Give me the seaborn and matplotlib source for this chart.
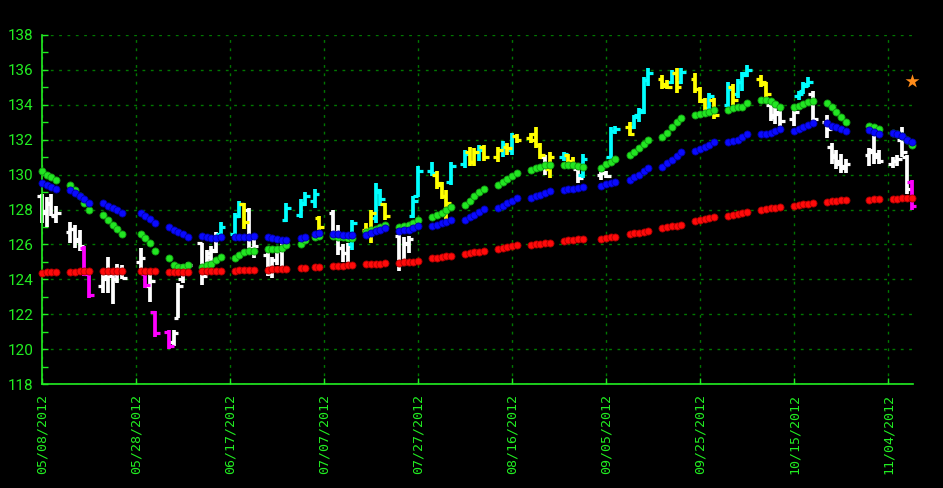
import numpy as np
import pandas as pd
import matplotlib
matplotlib.use("Agg")
import matplotlib.pyplot as plt
import matplotlib.dates as mdates
import seaborn as sns

# trading days (market holidays and the Sandy closure dropped)
holidays = ["2012-05-28", "2012-07-04", "2012-09-03", "2012-10-29", "2012-10-30"]
days = pd.bdate_range("2012-05-08", "2012-11-09")
days = days[~days.isin(pd.to_datetime(holidays))]

# daily bars, one row per week
opens = [128.8, 127.9, 128.4, 127.6,
         126.7, 126.9, 126.3, 125.8, 124.5,
         123.6, 124.2, 124.2, 124.0, 124.6,
         125.0, 124.3, 123.6, 122.1,
         121.0, 120.4, 121.8, 124.0, 124.5,
         126.1, 124.5, 125.3, 125.7, 126.6,
         126.6, 127.6, 128.3, 128.0, 125.6,
         125.4, 124.4, 125.1, 125.6, 127.4,
         127.7, 128.4, 128.5, 127.5,
         127.8, 126.6, 125.8, 125.5, 126.0,
         126.8, 126.9, 127.5, 129.0, 128.3,
         126.5, 125.0, 126.0, 127.6, 128.8,
         130.2, 130.0, 129.4, 128.8, 129.6,
         130.6, 131.3, 130.7, 131.3, 131.6,
         131.0, 131.4, 131.6, 131.4, 132.2,
         132.1, 132.3, 131.7, 131.0, 130.3,
         131.0, 131.1, 130.8, 130.3, 130.0,
         130.0, 130.1, 131.0, 132.5,
         132.7, 132.7, 133.4, 133.7, 135.4,
         135.5, 135.2, 135.3, 135.8, 135.3,
         135.5, 134.9, 134.2, 133.8, 134.3,
         134.0, 135.0, 134.6, 135.3, 135.8,
         135.5, 135.2, 134.0, 133.4, 133.5,
         133.2, 134.5, 134.8, 135.2, 134.6,
         133.0, 131.6, 131.1, 130.8, 130.5,
         131.1, 131.4, 131.0,
         130.6, 130.8, 132.0, 131.0, 129.6]
highs = [128.9, 128.7, 128.9, 128.2,
         127.3, 127.1, 126.8, 125.9, 124.6,
         124.3, 125.3, 124.3, 124.9, 124.8,
         125.8, 124.3, 124.3, 122.2,
         121.1, 121.1, 123.8, 124.9, 125.0,
         126.1, 125.7, 125.9, 126.7, 127.3,
         127.8, 128.5, 128.4, 128.1, 126.3,
         125.6, 125.3, 125.8, 126.1, 128.4,
         128.6, 129.0, 129.2, 127.6,
         128.0, 127.1, 126.0, 126.1, 127.4,
         127.2, 128.0, 129.5, 129.2, 128.4,
         126.6, 126.4, 126.5, 128.8, 130.5,
         130.7, 130.2, 129.6, 129.1, 130.7,
         131.4, 131.6, 131.5, 131.7, 131.7,
         131.6, 131.9, 131.8, 132.4, 132.3,
         132.4, 132.7, 131.8, 131.1, 131.3,
         131.3, 131.2, 131.0, 130.4, 131.2,
         130.3, 130.2, 132.7, 132.8,
         133.0, 133.4, 133.8, 135.6, 136.1,
         135.7, 135.4, 136.0, 136.1, 136.1,
         135.8, 135.0, 134.4, 134.7, 134.4,
         135.3, 135.2, 135.5, 135.9, 136.3,
         135.7, 135.3, 134.0, 133.9, 133.7,
         133.8, 134.8, 135.3, 135.6, 134.8,
         133.4, 131.8, 131.4, 131.2, 130.9,
         131.5, 132.2, 131.4,
         131.0, 131.1, 132.7, 131.1, 129.7]
lows = [127.2, 127.0, 127.6, 127.2,
        126.1, 125.8, 125.6, 124.2, 122.9,
        123.2, 123.2, 122.6, 123.8, 124.0,
        124.3, 123.5, 122.7, 120.7,
        120.0, 120.2, 121.8, 123.8, 124.2,
        123.7, 124.3, 125.0, 125.5, 126.5,
        126.5, 127.5, 126.9, 125.5, 125.2,
        124.2, 124.1, 124.8, 124.6, 127.3,
        127.5, 128.2, 128.1, 126.8,
        126.5, 125.4, 125.0, 125.0, 125.7,
        126.4, 126.1, 127.2, 128.2, 127.4,
        124.5, 124.8, 125.5, 127.5, 128.7,
        129.9, 129.2, 128.6, 127.4, 129.4,
        130.4, 130.5, 130.5, 130.8, 130.8,
        130.7, 131.0, 131.1, 131.1, 131.8,
        131.8, 131.5, 130.9, 130.0, 129.8,
        130.8, 130.6, 130.5, 129.5, 129.8,
        129.7, 129.8, 130.9, 132.3,
        132.2, 132.6, 133.0, 133.5, 135.1,
        134.9, 134.9, 135.2, 134.7, 135.2,
        134.7, 134.1, 133.4, 133.7, 133.2,
        133.9, 134.0, 134.4, 134.8, 135.6,
        135.0, 134.4, 133.1, 132.9, 132.8,
        132.8, 134.3, 134.6, 135.0, 133.0,
        132.1, 130.6, 130.3, 130.1, 130.1,
        130.5, 130.6, 130.6,
        130.4, 130.5, 131.0, 128.9, 128.0]
closes = [127.8, 128.3, 127.7, 127.8,
          126.9, 126.2, 125.9, 124.3, 123.1,
          124.0, 124.4, 124.0, 124.6, 124.1,
          125.2, 123.7, 123.9, 120.9,
          120.2, 120.9, 123.6, 124.6, 124.8,
          124.2, 125.5, 125.6, 126.5, 127.0,
          127.6, 128.3, 127.3, 125.8, 125.9,
          124.4, 125.1, 125.6, 125.9, 128.1,
          128.3, 128.8, 128.9, 127.0,
          126.7, 125.8, 125.5, 125.9, 127.2,
          126.9, 127.8, 129.1, 128.6, 127.6,
          124.9, 126.1, 126.3, 128.5, 130.2,
          130.1, 129.5, 128.8, 128.4, 130.5,
          131.2, 130.7, 131.3, 131.4, 131.0,
          131.4, 131.7, 131.5, 132.2, 132.0,
          132.0, 131.7, 131.1, 130.3, 131.0,
          131.2, 130.8, 130.6, 129.8, 130.9,
          130.1, 129.9, 132.5, 132.6,
          132.3, 133.3, 133.6, 135.4, 135.8,
          135.1, 135.0, 135.8, 135.0, 135.9,
          134.9, 134.3, 133.6, 134.5, 133.4,
          134.9, 134.3, 135.3, 135.7, 136.0,
          135.3, 134.6, 133.3, 133.6, 133.1,
          133.6, 134.6, 135.1, 135.3, 133.2,
          132.6, 131.0, 130.6, 130.4, 130.6,
          131.3, 131.2, 130.8,
          130.8, 130.9, 131.3, 129.2, 128.2]
# bar colour code per day: w white, m magenta, c cyan, y yellow
bar_kind = ("wwww" "wwwmm" "wwwww" "wmwm" "mwwww" "wwwwc" "ccyww" "wwwwc"
            "cccy" "wwwwc" "yyccy" "wwwcc" "cyyyc" "cyycy" "ycycy" "yyywy"
            "cyywc" "wwcc" "ycccc" "yycyc" "yyycy" "cyccc" "yywww" "wcccw"
            "wwwww" "www" "wwwwm")

ma_green = [130.2, 130.0, 129.85, 129.7,
            129.4, 129.1, 128.8, 128.4, 128.0,
            127.7, 127.4, 127.1, 126.9, 126.6,
            126.6, 126.35, 126.1, 125.6,
            125.2, 124.8, 124.7, 124.7, 124.8,
            124.7, 124.8, 124.9, 125.1, 125.3,
            125.2, 125.4, 125.55, 125.6, 125.6,
            125.75, 125.75, 125.75, 125.8, 125.95,
            126.0, 126.25, 126.4, 126.5,
            126.5, 126.45, 126.4, 126.35, 126.35,
            126.7, 126.8, 126.9, 127.0, 127.1,
            127.0, 127.05, 127.1, 127.25, 127.4,
            127.55, 127.7, 127.8, 128.0, 128.15,
            128.25, 128.5, 128.75, 129.0, 129.2,
            129.4, 129.55, 129.75, 129.9, 130.1,
            130.25, 130.35, 130.45, 130.55, 130.55,
            130.55, 130.55, 130.55, 130.5, 130.45,
            130.4, 130.6, 130.75, 130.9,
            131.1, 131.3, 131.5, 131.75, 132.0,
            132.15, 132.4, 132.7, 133.0, 133.25,
            133.4, 133.5, 133.55, 133.6, 133.7,
            133.7, 133.8, 133.85, 133.9, 134.1,
            134.3, 134.25, 134.2, 134.05, 133.9,
            133.85, 133.95, 134.05, 134.15, 134.2,
            134.1, 133.85, 133.6, 133.3, 133.0,
            132.8, 132.7, 132.6,
            132.4, 132.3, 132.2, 132.0, 131.7]
ma_blue = [129.5, 129.4, 129.3, 129.2,
           129.1, 128.95, 128.8, 128.6, 128.4,
           128.35, 128.2, 128.1, 128.0, 127.8,
           127.8, 127.6, 127.45, 127.25,
           127.0, 126.85, 126.7, 126.6, 126.45,
           126.5, 126.4, 126.35, 126.35, 126.4,
           126.45, 126.45, 126.45, 126.45, 126.5,
           126.4, 126.35, 126.3, 126.25, 126.25,
           126.35, 126.45, 126.6, 126.65,
           126.6, 126.6, 126.55, 126.55, 126.55,
           126.55, 126.65, 126.75, 126.85, 126.95,
           126.75, 126.8, 126.85, 126.95, 127.05,
           127.05, 127.1, 127.2, 127.3, 127.4,
           127.4, 127.55, 127.7, 127.85, 128.05,
           128.1, 128.2, 128.35, 128.5, 128.65,
           128.65, 128.75, 128.85, 128.95, 129.05,
           129.1, 129.15, 129.2, 129.25, 129.3,
           129.35, 129.45, 129.5, 129.6,
           129.7, 129.85, 130.0, 130.2, 130.4,
           130.45, 130.65, 130.85, 131.05, 131.3,
           131.35, 131.45, 131.6, 131.7, 131.85,
           131.85, 131.95, 132.0, 132.15, 132.3,
           132.3, 132.35, 132.4, 132.5, 132.6,
           132.5, 132.6, 132.75, 132.85, 132.95,
           132.95, 132.8, 132.7, 132.6, 132.5,
           132.55, 132.45, 132.35,
           132.4, 132.3, 132.2, 132.0, 131.85]
ma_red = [124.35, 124.4, 124.4, 124.4,
          124.42, 124.44, 124.45, 124.46, 124.47,
          124.5, 124.5, 124.5, 124.5, 124.5,
          124.45, 124.45, 124.45, 124.45,
          124.4, 124.4, 124.4, 124.4, 124.4,
          124.45, 124.45, 124.5, 124.5, 124.5,
          124.5, 124.52, 124.54, 124.55, 124.56,
          124.55, 124.57, 124.58, 124.6, 124.6,
          124.62, 124.65, 124.68, 124.7,
          124.75, 124.76, 124.78, 124.8, 124.82,
          124.85, 124.87, 124.89, 124.9, 124.92,
          124.95, 124.98, 125.0, 125.02, 125.05,
          125.2, 125.24, 125.28, 125.32, 125.36,
          125.45, 125.5, 125.55, 125.58, 125.62,
          125.75, 125.8, 125.85, 125.9, 125.95,
          125.98, 126.0, 126.03, 126.06, 126.1,
          126.2, 126.23, 126.26, 126.3, 126.33,
          126.33, 126.36, 126.4, 126.43,
          126.6, 126.64, 126.68, 126.72, 126.76,
          126.95, 127.0, 127.04, 127.08, 127.12,
          127.35, 127.4, 127.45, 127.5, 127.55,
          127.65, 127.7, 127.75, 127.8, 127.85,
          127.98, 128.02, 128.06, 128.1, 128.13,
          128.22, 128.26, 128.3, 128.34, 128.38,
          128.44, 128.48, 128.5, 128.53, 128.56,
          128.55, 128.58, 128.6,
          128.6, 128.62, 128.64, 128.66, 128.68]

star_date = "2012-11-09"
star_value = 135.35
tick_dates = pd.date_range("2012-05-08", periods=10, freq="20D")
y_ticks = list(range(118, 139, 2))

kind_colors = {"w": "#ffffff", "m": "#ff00ff", "c": "#00ffff", "y": "#ffff00"}
axis_green = "#22ee22"

df = pd.DataFrame({"date": days, "open": opens, "high": highs, "low": lows,
                   "close": closes, "kind": list(bar_kind),
                   "green": ma_green, "blue": ma_blue, "red": ma_red})

sns.set_theme(style="dark", rc={"axes.facecolor": "black", "figure.facecolor": "black"})

fig = plt.figure(figsize=(9.43, 4.88), dpi=100)
ax = fig.add_axes([42 / 943, 104 / 488, 871 / 943, 349 / 488])
ax.set_facecolor("black")

# moving average dots, each with a darker rim so they read as beads
ma_styles = [("green", "#22e622", "#129a12", 3),
             ("blue", "#0a0aff", "#0000a8", 4),
             ("red", "#ff0a0a", "#a80000", 5)]
for col, c, edge, z in ma_styles:
    sns.scatterplot(data=df, x="date", y=col, color=c, s=26, edgecolor=edge,
                    linewidth=0.6, ax=ax, zorder=z, clip_on=False)

# bars: high-low line, open tick left, close tick right
x = mdates.date2num(df["date"])
for k, c in kind_colors.items():
    m = (df["kind"] == k).values
    ax.vlines(x[m], df["low"][m], df["high"][m], color=c, lw=2.7, zorder=2, clip_on=False)
    ax.hlines(df["open"][m], x[m] - 1.0, x[m], color=c, lw=2.3, zorder=2, clip_on=False)
    ax.hlines(df["close"][m], x[m], x[m] + 1.0, color=c, lw=2.3, zorder=2, clip_on=False)

sns.scatterplot(x=[pd.Timestamp(star_date)], y=[star_value], marker="*", s=110,
                color="#ff8c1a", linewidth=0, ax=ax, zorder=6, clip_on=False)

x0 = mdates.date2num(pd.Timestamp("2012-05-08"))
ax.set_xlim(x0, x0 + 185.3)
ax.set_ylim(118, 138)

ax.set_xticks(tick_dates)
ax.set_xticklabels([d.strftime("%m/%d/%Y") for d in tick_dates], rotation=90,
                   family="DejaVu Sans Mono", fontsize=9.5, color=axis_green)
ax.set_yticks(y_ticks)
ax.set_yticks(range(118, 139), minor=True)
ax.set_yticklabels([str(v) for v in y_ticks], fontsize=11, color=axis_green,
                   family=["Roboto", "DejaVu Sans"])
ax.tick_params(axis="x", direction="in", length=4, width=1, color=axis_green,
               pad=7, bottom=True)
ax.tick_params(axis="y", which="both", direction="in", length=4, width=1,
               color=axis_green, pad=6, left=True)

ax.grid(True, which="major", color="#007800", linestyle=(0, (2, 4)), lw=1.0)
ax.set_axisbelow(True)
for s in ["top", "right"]:
    ax.spines[s].set_visible(False)
for s in ["left", "bottom"]:
    ax.spines[s].set_visible(True)
    ax.spines[s].set_color(axis_green)
    ax.spines[s].set_linewidth(1.2)
ax.set_xlabel("")
ax.set_ylabel("")

fig.savefig("out.png", dpi=100, facecolor="black")
